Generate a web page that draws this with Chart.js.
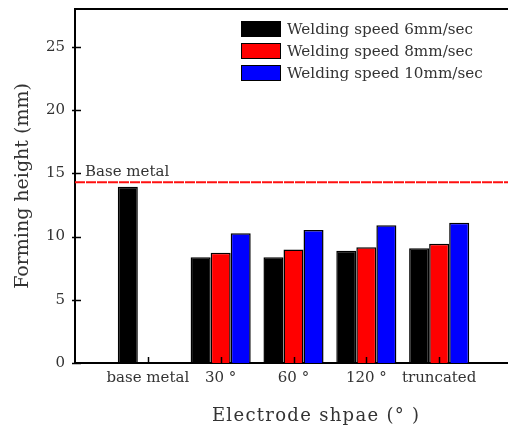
<!DOCTYPE html>
<html>
<head>
<meta charset="utf-8">
<script src="https://cdn.jsdelivr.net/npm/chart.js@4/dist/chart.umd.min.js"></script>
<style>
  html, body { margin: 0; padding: 0; background: #fff; overflow: hidden; }
  #wrap { width: 520px; height: 429px; position: relative; }
</style>
</head>
<body>
<div id="wrap"><canvas id="c"></canvas></div>
<script>
// Electrode shape categories (outer blanks pad the axis range)
const categories = ['', 'base metal', '30 °', '60 °', '120 °', 'truncated', ''];

// Forming height (mm) per welding speed
const speed6  = [null, 13.95, 8.36, 8.36, 8.88, 9.07, null];
const speed8  = [null, null, 8.73, 8.97, 9.15, 9.44, null];
const speed10 = [null, null, 10.26, 10.52, 10.89, 11.10, null];

const seriesLabels = ['Welding speed 6mm/sec', 'Welding speed 8mm/sec', 'Welding speed 10mm/sec'];
const seriesColors = ['#000000', '#ff0000', '#0000ff'];

// Reference height of the base metal
const baseMetalHeight = 14.3;
const baseMetalLabel = 'Base metal';

const yTicks = [0, 5, 10, 15, 20, 25];
const yMax = 28;

const xTitle = 'Electrode shpae (° )';
const yTitle = 'Forming height (mm)';

const FONT = '"DejaVu Serif", "Liberation Serif", serif';
const TEXT = '#333333';

// Frame top line, inward tick marks, reference-line label, x title and legend
const decorations = {
  id: 'decorations',
  afterDatasetsDraw(chart) {
    const { ctx, chartArea: a, scales: { x, y } } = chart;
    ctx.save();
    ctx.strokeStyle = '#000';
    ctx.lineWidth = 2;
    ctx.beginPath();
    ctx.moveTo(a.left - 1, a.top);
    ctx.lineTo(a.right + 1, a.top);
    ctx.stroke();

    ctx.lineWidth = 1.5;
    yTicks.forEach(v => {
      const py = Math.round(y.getPixelForValue(v)) + 0.5;
      ctx.beginPath();
      ctx.moveTo(a.left - 3, py);
      ctx.lineTo(a.left + 6, py);
      ctx.stroke();
    });
    categories.forEach((c, i) => {
      if (!c) return;
      const px = Math.round(x.getPixelForValue(i)) + 0.5;
      ctx.beginPath();
      ctx.moveTo(px, a.bottom);
      ctx.lineTo(px, a.bottom - 6);
      ctx.stroke();
    });

    // label of the base metal line
    ctx.fillStyle = TEXT;
    ctx.font = '15px ' + FONT;
    ctx.textAlign = 'left';
    ctx.textBaseline = 'alphabetic';
    ctx.fillText(baseMetalLabel, a.left + 10, y.getPixelForValue(baseMetalHeight) - 6);

    // x axis title, set a little right of the plot centre
    ctx.save();
    ctx.font = '18px ' + FONT;
    ctx.letterSpacing = '1.3px';
    ctx.textAlign = 'left';
    ctx.fillText(xTitle, x.getPixelForValue(1.88), a.bottom + 58);
    ctx.restore();

    // legend
    const bars = chart.data.datasets.filter(d => d.type !== 'line');
    bars.forEach((d, i) => {
      const bx = 241, by = 21 + i * 22;
      ctx.fillStyle = d.backgroundColor;
      ctx.fillRect(bx, by, 40, 16);
      ctx.strokeStyle = '#000';
      ctx.lineWidth = 1;
      ctx.strokeRect(bx + 0.5, by + 0.5, 39, 15);
      ctx.fillStyle = TEXT;
      ctx.font = '15.2px ' + FONT;
      ctx.textBaseline = 'middle';
      ctx.fillText(d.label, 287, by + 9);
    });
    ctx.restore();
  }
};

const barSet = (label, data, color) => ({
  type: 'bar',
  label,
  data,
  backgroundColor: color,
  borderColor: '#000',
  borderWidth: 1.5,
  categoryPercentage: 0.825,
  barPercentage: 1.0,
  order: 2
});

new Chart(document.getElementById('c'), {
  type: 'bar',
  data: {
    labels: categories,
    datasets: [
      barSet(seriesLabels[0], speed6, seriesColors[0]),
      barSet(seriesLabels[1], speed8, seriesColors[1]),
      barSet(seriesLabels[2], speed10, seriesColors[2]),
      {
        type: 'line',
        label: baseMetalLabel,
        data: categories.map(() => baseMetalHeight),
        borderColor: '#ff1010',
        borderWidth: 2,
        borderDash: [10, 1],
        pointRadius: 0,
        fill: false,
        order: 1
      }
    ]
  },
  options: {
    responsive: true,
    maintainAspectRatio: false,
    animation: false,
    layout: { padding: { top: 0, right: 8, left: 0, bottom: 0 } },
    plugins: { legend: { display: false }, tooltip: { enabled: false } },
    scales: {
      x: {
        type: 'category',
        offset: false,
        grid: { display: false, drawTicks: false },
        border: { display: true, color: '#000', width: 2 },
        ticks: {
          autoSkip: false, maxRotation: 0, padding: 6,
          color: TEXT, font: { family: FONT, size: 15 }
        },
        afterFit(s) { s.height = 66; }
      },
      y: {
        min: 0, max: yMax,
        grid: { display: false, drawTicks: false },
        border: { display: true, color: '#000', width: 2 },
        ticks: {
          stepSize: 5, padding: 10,
          color: TEXT, font: { family: FONT, size: 15 }
        },
        afterBuildTicks(s) { s.ticks = s.ticks.filter(t => yTicks.includes(t.value)); },
        title: {
          display: true, text: yTitle, color: TEXT,
          font: { family: FONT, size: 19 }, padding: { top: 12, bottom: 0 }
        },
        afterFit(s) { s.width = 75; s.paddingTop = 9; s.paddingBottom = 0; }
      }
    }
  },
  plugins: [decorations]
});
</script>
</body>
</html>
